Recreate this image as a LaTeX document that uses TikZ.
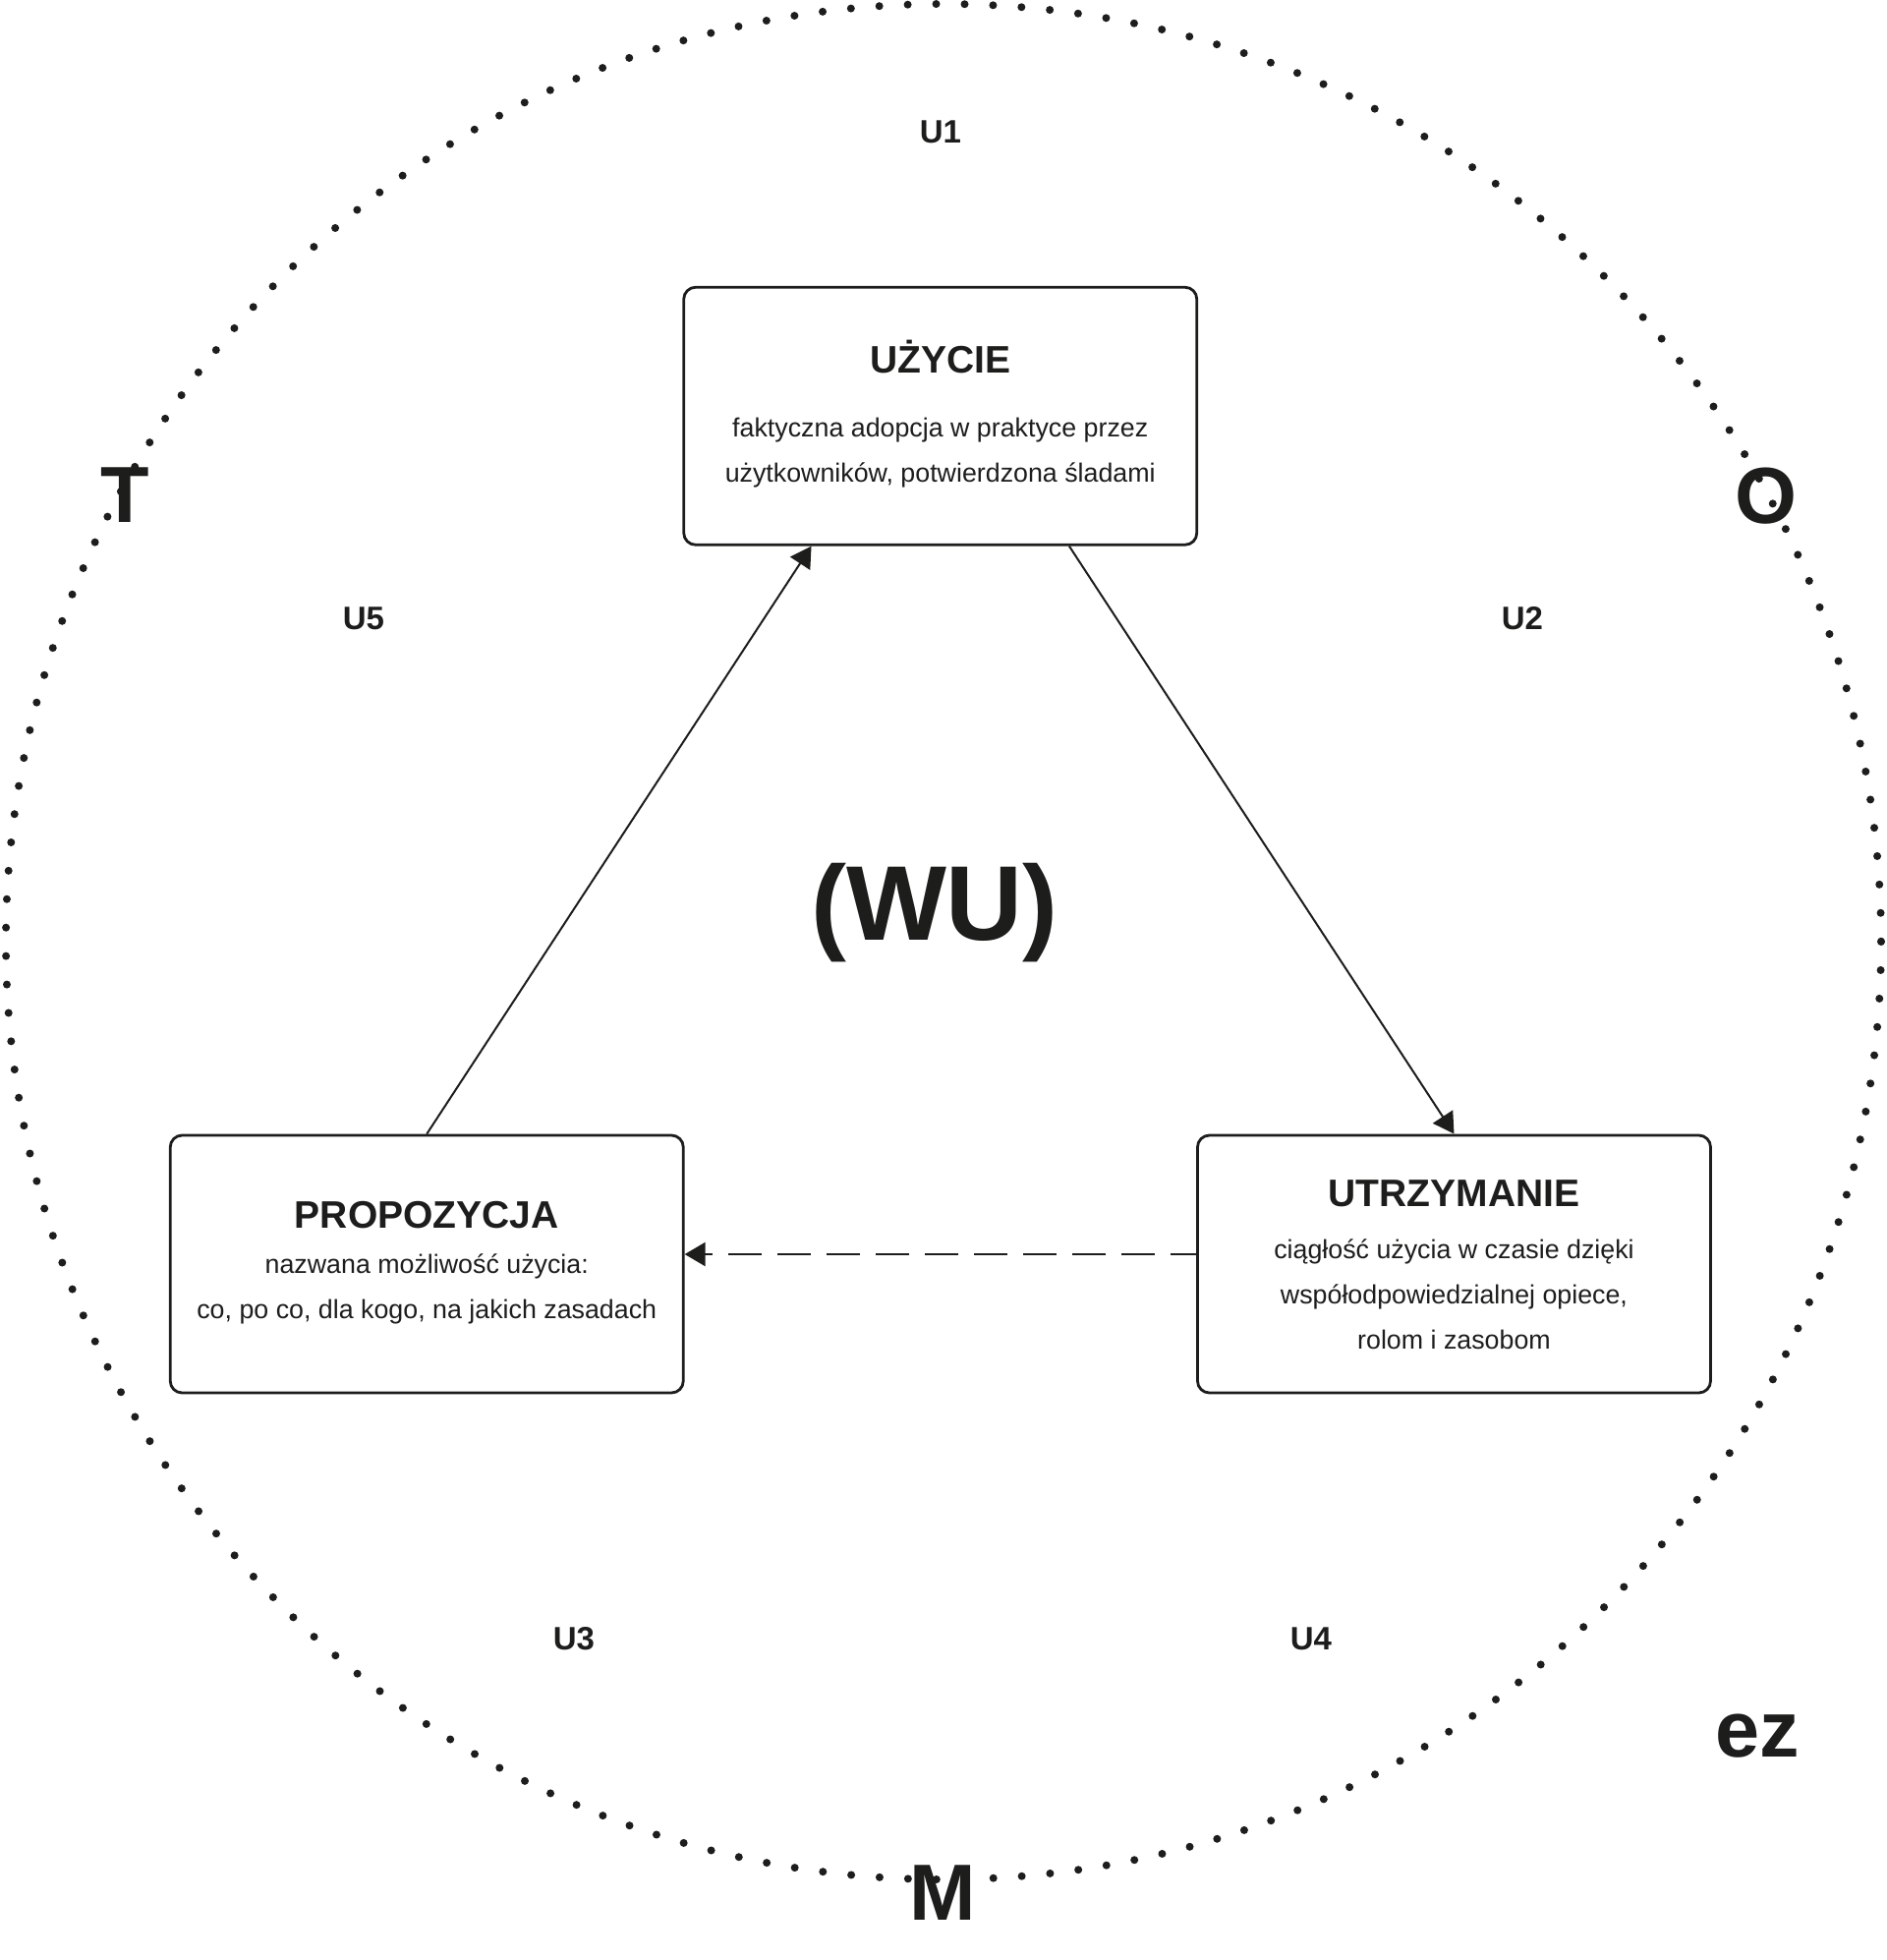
\documentclass[tikz,border=0pt]{standalone}
\usepackage{fontspec}
\setmainfont{Liberation Sans}
\usetikzlibrary{arrows.meta,calc}
\definecolor{Ink}{HTML}{1D1D1B}

\begin{document}
\begin{tikzpicture}[
 x=0.5pt,y=-0.5pt,
 box/.style={draw=Ink,line width=1.4pt,rounded corners=6pt,minimum width=261pt,minimum height=131pt,inner sep=0pt},
 ttl/.style={text=Ink,font=\fontsize{19.5}{23}\selectfont\bfseries,inner sep=0pt,anchor=base},
 txt/.style={text=Ink,font=\fontsize{13.4}{23}\selectfont,align=center,inner sep=0pt},
 lbl/.style={text=Ink,font=\fontsize{16.5}{20}\selectfont\bfseries,inner sep=0pt},
 big/.style={text=Ink,font=\fontsize{40.5}{48}\selectfont\bfseries,inner sep=0pt,anchor=base},
 arr/.style={-{Triangle[length=10.5pt,width=12pt]},line width=1pt,draw=Ink},
 ring/.style={draw=Ink,line width=4pt,line cap=round,dash pattern=on 0pt off 14.48pt}
]
\useasboundingbox (0,0) rectangle (1920,1994);
% dotted ring
\draw[ring] (960,958) circle[radius=954];
% three boxes
\node[box] (uzycie) at (956.75,423.25) {};
\node[box] (propozycja) at (434.25,1286) {};
\node[box] (utrzymanie) at (1479.5,1286) {};
\node[ttl] (uzycieT) at (956.75,379.5) {UŻYCIE};
\node[txt] (uzycieB) at (956.75,460.5) {faktyczna adopcja w praktyce przez\\użytkowników, potwierdzona śladami};
\node[ttl] (propozycjaT) at (434.25,1249) {PROPOZYCJA};
\node[txt] (propozycjaB) at (434.25,1311.5) {nazwana możliwość użycia:\\co, po co, dla kogo, na jakich zasadach};
\node[ttl] (utrzymanieT) at (1479.5,1227.5) {UTRZYMANIE};
\node[txt] (utrzymanieB) at (1479.5,1317) {ciągłość użycia w czasie dzięki\\współodpowiedzialnej opiece,\\rolom i zasobom};
% arrows
\draw[arr] (propozycja.north) -- ($(uzycie.south west)!.25!(uzycie.south east)$);
\draw[arr] ($(uzycie.south west)!.75!(uzycie.south east)$) -- (utrzymanie.north);
\draw[arr,line width=1.2pt,dash pattern=on 17pt off 8pt,dash phase=4pt] ([yshift=5pt]utrzymanie.west) -- ([yshift=5pt]propozycja.east);
% centre and ring labels
\node[text=Ink,font=\fontsize{54}{60}\selectfont\bfseries,inner sep=0pt,anchor=base] (wu) at (951,956) {(WU)};
\node[lbl] (u1) at (957,134) {U1};
\node[lbl] (u2) at (1549,629) {U2};
\node[lbl] (u3) at (584,1667) {U3};
\node[lbl] (u4) at (1334,1667) {U4};
\node[lbl] (u5) at (370,629) {U5};
\node[big] (t) at (127,531) {T};
\node[big] (o) at (1797,532) {O};
\node[big] (m) at (959.5,1953) {M};
\node[big] (ez) at (1788,1787) {ez};
\end{tikzpicture}
\end{document}
